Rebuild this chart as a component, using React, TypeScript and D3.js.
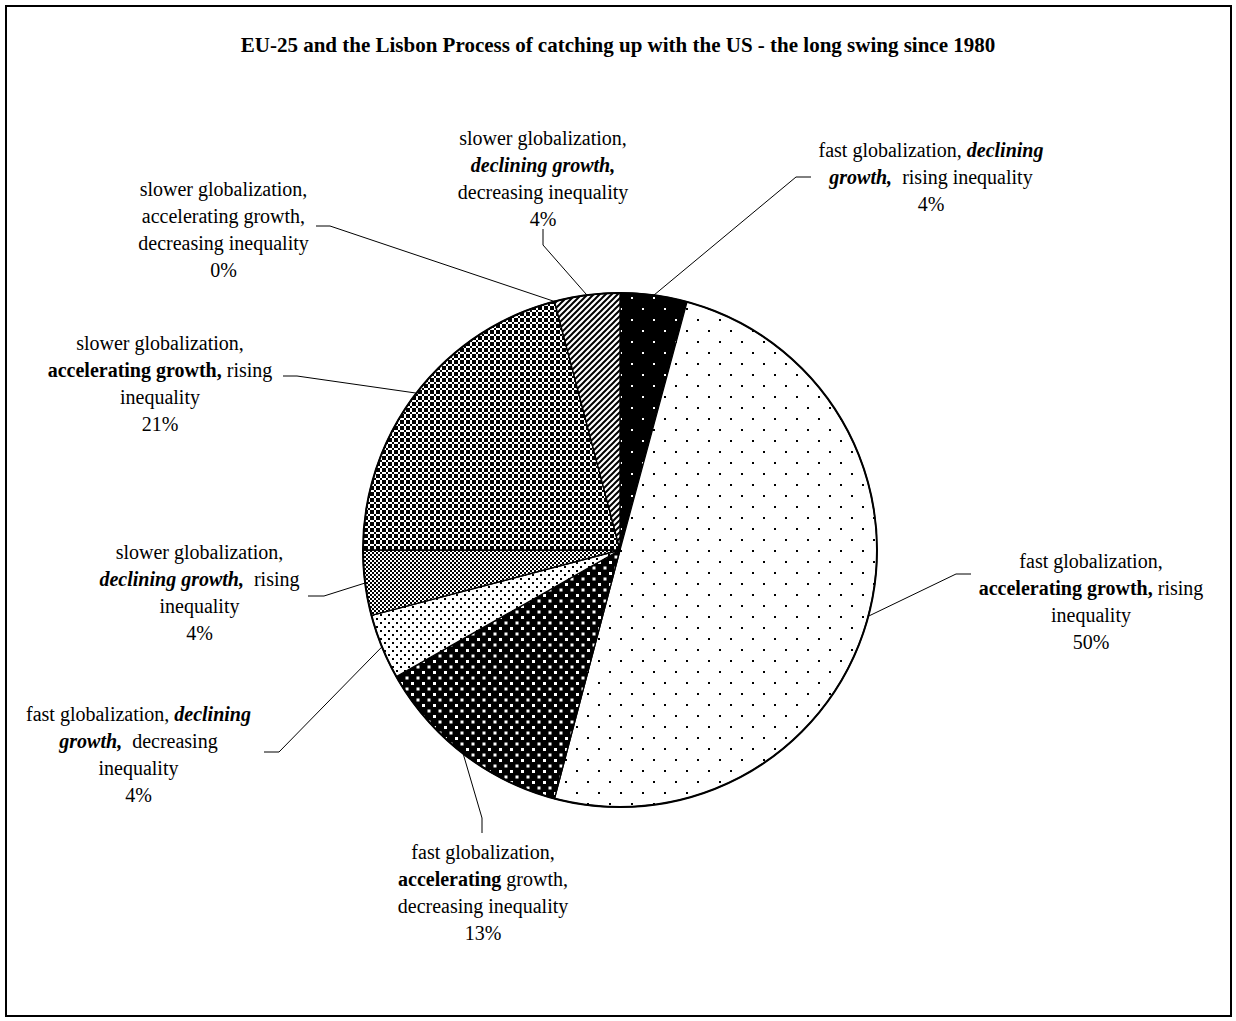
import React from 'react';
import * as d3 from 'd3';

const W = 1236;
const H = 1021;

const title = 'EU-25 and the Lisbon Process of catching up with the US - the long swing since 1980';

const categories = [
  'fast globalization, declining growth, rising inequality',
  'fast globalization, accelerating growth, rising inequality',
  'fast globalization, accelerating growth, decreasing inequality',
  'fast globalization, declining growth, decreasing inequality',
  'slower globalization, declining growth, rising inequality',
  'slower globalization, accelerating growth, rising inequality',
  'slower globalization, accelerating growth, decreasing inequality',
  'slower globalization, declining growth, decreasing inequality',
];

const values = [4.2, 49.9, 12.7, 4.1, 4.1, 20.9, 0, 4.1];

const patternIds = ['pBlackDots', 'pSparseDots', 'pBlackDense', 'pDenseDots', 'pChecker', 'pTrellis', 'pNone', 'pStripes'];

type Seg = { t: string; b?: boolean; i?: boolean };

const labelLines: Seg[][][] = [
  [[{ t: 'fast globalization, ' }, { t: 'declining', b: true, i: true }], [{ t: 'growth,', b: true, i: true }, { t: '  rising inequality' }]],
  [[{ t: 'fast globalization,' }], [{ t: 'accelerating growth,', b: true }, { t: ' rising' }], [{ t: 'inequality' }]],
  [[{ t: 'fast globalization,' }], [{ t: 'accelerating', b: true }, { t: ' growth,' }], [{ t: 'decreasing inequality' }]],
  [[{ t: 'fast globalization, ' }, { t: 'declining', b: true, i: true }], [{ t: 'growth,', b: true, i: true }, { t: '  decreasing' }], [{ t: 'inequality' }]],
  [[{ t: 'slower globalization,' }], [{ t: 'declining growth,', b: true, i: true }, { t: '  rising' }], [{ t: 'inequality' }]],
  [[{ t: 'slower globalization,' }], [{ t: 'accelerating growth,', b: true }, { t: ' rising' }], [{ t: 'inequality' }]],
  [[{ t: 'slower globalization,' }], [{ t: 'accelerating growth,' }], [{ t: 'decreasing inequality' }]],
  [[{ t: 'slower globalization,' }], [{ t: 'declining growth,', b: true, i: true }], [{ t: 'decreasing inequality' }]],
];

// layout (label centres and leader elbows)
const labelCenters: [number, number][] = [
  [931, 150], [1091, 561], [483, 852], [138.5, 714], [199.5, 552], [160, 343], [223.5, 189], [543, 138],
];
const leaderElbows: [number, number][][] = [
  [[796, 177], [811, 177]],
  [[956, 574], [971, 574]],
  [[482, 818], [482, 833]],
  [[279, 752], [264, 752]],
  [[324, 596], [308, 596]],
  [[297, 376], [283, 376]],
  [[330, 226], [316, 226]],
  [[543, 245], [543, 229]],
];

const CX = 620;
const CY = 550;
const R = 257;
const FS = 20;
const LH = 27;
const FONT = '"Liberation Serif", "Times New Roman", serif';

export default function App() {
  const pie = d3.pie<number>().sort(null).value((d) => d);
  const arcs = pie(values);
  const arc = d3.arc<d3.PieArcDatum<number>>().innerRadius(0).outerRadius(R);

  return (
    <svg width={W} height={H} style={{ position: 'absolute', left: 0, top: 0, background: '#fff' }} fontFamily={FONT}>
      <defs>
        <pattern id="pBlackDots" patternUnits="userSpaceOnUse" width={22} height={22}>
          <rect width={22} height={22} fill="#000" />
          <rect x={0} y={0} width={2} height={2} fill="#fff" />
          <rect x={11} y={11} width={2} height={2} fill="#fff" />
        </pattern>
        <pattern id="pSparseDots" patternUnits="userSpaceOnUse" width={22} height={22}>
          <rect width={22} height={22} fill="#fff" />
          <rect x={0} y={0} width={2} height={2} fill="#000" />
          <rect x={11} y={11} width={2} height={2} fill="#000" />
        </pattern>
        <pattern id="pBlackDense" patternUnits="userSpaceOnUse" width={11} height={11}>
          <rect width={11} height={11} fill="#000" />
          <rect x={0} y={0} width={3} height={3} fill="#fff" />
          <rect x={5.5} y={5.5} width={3} height={3} fill="#fff" />
        </pattern>
        <pattern id="pDenseDots" patternUnits="userSpaceOnUse" width={8} height={8}>
          <rect width={8} height={8} fill="#fff" />
          <rect x={0} y={0} width={2} height={2} fill="#000" />
          <rect x={4} y={4} width={2} height={2} fill="#000" />
        </pattern>
        <pattern id="pChecker" patternUnits="userSpaceOnUse" width={4} height={4}>
          <rect width={4} height={4} fill="#000" />
          <rect x={0} y={0} width={2} height={2} fill="#fff" />
          <rect x={2} y={2} width={2} height={2} fill="#fff" />
        </pattern>
        <pattern id="pTrellis" patternUnits="userSpaceOnUse" width={6} height={6}>
          <rect width={6} height={6} fill="#fff" />
          <rect x={0} y={0} width={2} height={2} fill="#000" />
          <rect x={2} y={2} width={2} height={2} fill="#000" />
          <rect x={4} y={4} width={2} height={2} fill="#000" />
          <rect x={2} y={4} width={2} height={2} fill="#000" />
          <rect x={4} y={2} width={2} height={2} fill="#000" />
        </pattern>
        <pattern id="pNone" patternUnits="userSpaceOnUse" width={4} height={4}>
          <rect width={4} height={4} fill="#fff" />
        </pattern>
        <pattern id="pStripes" patternUnits="userSpaceOnUse" width={6} height={6}>
          <rect width={6} height={6} fill="#fff" />
          <path d="M-1,1 L1,-1 M0,6 L6,0 M5,7 L7,5" stroke="#000" strokeWidth={2} />
        </pattern>
      </defs>

      <rect x={6} y={6} width={1225} height={1010} fill="#fff" stroke="#000" strokeWidth={2} />

      <text x={618} y={52} textAnchor="middle" fontWeight="bold" fontSize={21}>
        {title}
      </text>

      <g transform={`translate(${CX},${CY})`}>
        {arcs.map((a, k) => (
          <path key={k} d={arc(a) || ''} fill={`url(#${patternIds[k]})`} stroke="#000" strokeWidth={1.3} strokeLinejoin="round">
            <title>{categories[k]}</title>
          </path>
        ))}
        <circle r={R} fill="none" stroke="#000" strokeWidth={2} />
      </g>

      {arcs.map((a, k) => {
        const mid = (a.startAngle + a.endAngle) / 2;
        const sx = CX + R * Math.sin(mid);
        const sy = CY - R * Math.cos(mid);
        const pts = [[sx, sy], ...leaderElbows[k]];
        return (
          <path key={'l' + k} d={d3.line()(pts as [number, number][]) || ''} fill="none" stroke="#000" strokeWidth={1} />
        );
      })}

      {arcs.map((a, k) => {
        const [lx, ly] = labelCenters[k];
        const lines = [...labelLines[k], [{ t: `${Math.round(values[k])}%` }]];
        return (
          <g key={'t' + k}>
            {lines.map((segs, j) => (
              <text key={j} x={lx} y={ly + j * LH} dy="0.35em" textAnchor="middle" fontSize={FS} style={{ whiteSpace: 'pre' }}>
                {segs.map((s, m) => (
                  <tspan key={m} fontWeight={s.b ? 'bold' : 'normal'} fontStyle={s.i ? 'italic' : 'normal'}>
                    {s.t}
                  </tspan>
                ))}
              </text>
            ))}
          </g>
        );
      })}
    </svg>
  );
}
